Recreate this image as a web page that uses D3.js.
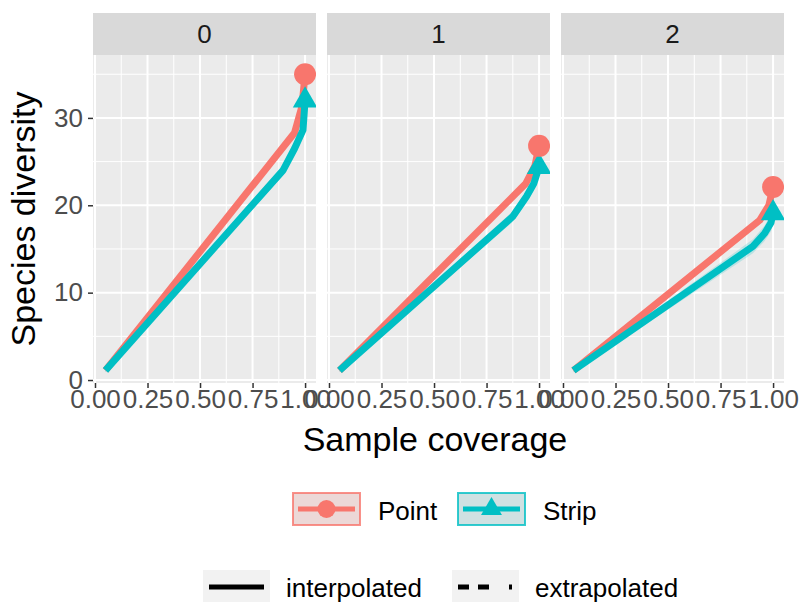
<!DOCTYPE html>
<html>
<head>
<meta charset="utf-8">
<script src="https://cdn.jsdelivr.net/npm/d3@7"></script>
<style>
  body { margin: 0; background: #fff; }
  svg { font-family: "Liberation Sans", Arial, sans-serif; }
</style>
</head>
<body>
<div id="chart"></div>
<script>
// Facets (order q) and assemblages
const orders = ["0", "1", "2"];
const groups = ["Point", "Strip"];
const methods = ["interpolated", "extrapolated"];

// Rows: [sample coverage, diversity, lower CI, upper CI]; last row = observed
const point0 = [[0.05, 1.1, 0.9, 1.3], [0.95, 28.3, 27.8, 28.8], [0.985, 31.3, 30.6, 32.0], [1.0, 35.0, 34.2, 35.8]];
const strip0 = [[0.05, 1.1, 0.9, 1.3], [0.895, 24.0, 23.4, 24.6], [0.95, 26.5, 25.8, 27.2], [0.99, 28.6, 27.8, 29.4], [1.0, 32.0, 31.0, 33.0]];
const point1 = [[0.05, 1.1, 0.9, 1.3], [0.937, 22.5, 22.0, 23.0], [0.98, 24.5, 23.9, 25.1], [1.0, 26.8, 26.1, 27.5]];
const strip1 = [[0.05, 1.1, 0.9, 1.3], [0.874, 18.7, 18.1, 19.3], [0.94, 21.0, 20.3, 21.7], [0.975, 22.5, 21.7, 23.3], [1.0, 24.4, 23.5, 25.3]];
const point2 = [[0.05, 1.1, 0.9, 1.3], [0.937, 18.3, 17.8, 18.8], [0.98, 20.0, 19.4, 20.6], [1.0, 22.1, 21.4, 22.8]];
const strip2 = [[0.05, 1.1, 0.9, 1.3], [0.904, 15.3, 14.5, 16.1], [0.96, 16.8, 15.9, 17.7], [0.99, 18.0, 17.0, 19.0], [1.0, 19.1, 18.0, 20.2]];

// Tick values
const xTicks = [0, 0.25, 0.5, 0.75, 1];
const xMinor = [0.125, 0.375, 0.625, 0.875];
const yTicks = [0, 10, 20, 30];
const yMinor = [5, 15, 25, 35];

const series = [[point0, strip0], [point1, strip1], [point2, strip2]];
const colors = ["#F8766D", "#00BFC4"];
const keyFills = ["#ecd8d7", "#cfe1e2"];

// Layout
const W = 800, H = 603;
const panelTop = 55, panelBottom = 383, panelW = 223, stripTop = 13;
const panelLefts = [93, 327, 561];

const svg = d3.select("#chart")
  .append("svg")
  .attr("width", W)
  .attr("height", H);

// Shared y scale
const y = d3.scaleLinear()
  .domain([-0.34, 37.2])
  .range([panelBottom, panelTop]);

orders.forEach((q, i) => {
  const left = panelLefts[i];
  const x = d3.scaleLinear()
    .domain([-0.0095, 1.052])
    .range([left, left + panelW]);

  const g = svg.append("g");

  // Panel background
  g.append("rect")
    .attr("x", left).attr("y", panelTop)
    .attr("width", panelW).attr("height", panelBottom - panelTop)
    .attr("fill", "#ebebeb");

  // Minor grid
  g.selectAll(".vminor").data(xMinor).enter().append("line")
    .attr("x1", d => x(d)).attr("x2", d => x(d))
    .attr("y1", panelTop).attr("y2", panelBottom)
    .attr("stroke", "#fff").attr("stroke-width", 1);
  g.selectAll(".hminor").data(yMinor).enter().append("line")
    .attr("x1", left).attr("x2", left + panelW)
    .attr("y1", d => y(d)).attr("y2", d => y(d))
    .attr("stroke", "#fff").attr("stroke-width", 1);

  // Major grid
  g.selectAll(".vmajor").data(xTicks).enter().append("line")
    .attr("x1", d => x(d)).attr("x2", d => x(d))
    .attr("y1", panelTop).attr("y2", panelBottom)
    .attr("stroke", "#fff").attr("stroke-width", 2);
  g.selectAll(".hmajor").data(yTicks).enter().append("line")
    .attr("x1", left).attr("x2", left + panelW)
    .attr("y1", d => y(d)).attr("y2", d => y(d))
    .attr("stroke", "#fff").attr("stroke-width", 2);

  // Strip on top
  g.append("rect")
    .attr("x", left).attr("y", stripTop)
    .attr("width", panelW).attr("height", panelTop - stripTop)
    .attr("fill", "#d9d9d9");
  g.append("text")
    .attr("x", left + panelW / 2)
    .attr("y", (stripTop + panelTop) / 2)
    .attr("dy", "0.36em")
    .attr("text-anchor", "middle")
    .style("font-size", "26px")
    .attr("fill", "#1a1a1a")
    .text(q);

  // Clip marks to the panel
  const clipId = "clip" + i;
  svg.append("clipPath").attr("id", clipId)
    .append("rect")
    .attr("x", left).attr("y", panelTop)
    .attr("width", panelW).attr("height", panelBottom - panelTop);
  const marks = g.append("g").attr("clip-path", `url(#${clipId})`);

  const area = d3.area()
    .x(d => x(d[0])).y0(d => y(d[2])).y1(d => y(d[3]));
  const line = d3.line()
    .x(d => x(d[0])).y(d => y(d[1]));

  // Confidence bands
  series[i].forEach((s, k) => {
    marks.append("path")
      .attr("d", area(s))
      .attr("fill", colors[k])
      .attr("fill-opacity", 0.2);
  });

  // Rarefaction curves
  series[i].forEach((s, k) => {
    marks.append("path")
      .attr("d", line(s))
      .attr("fill", "none")
      .attr("stroke", colors[k])
      .attr("stroke-width", 7)
      .attr("stroke-linejoin", "round");
  });

  // Observed points
  const obsStrip = series[i][1][series[i][1].length - 1];
  marks.append("path")
    .attr("d", d3.symbol(d3.symbolTriangle, 260)())
    .attr("transform", `translate(${x(obsStrip[0])},${y(obsStrip[1])})`)
    .attr("fill", colors[1]);
  const obsPoint = series[i][0][series[i][0].length - 1];
  marks.append("circle")
    .attr("cx", x(obsPoint[0])).attr("cy", y(obsPoint[1]))
    .attr("r", 11)
    .attr("fill", colors[0]);

  // X axis
  const xAxis = svg.append("g")
    .attr("transform", `translate(0,${panelBottom})`)
    .call(d3.axisBottom(x).tickValues(xTicks).tickFormat(d3.format(".2f"))
      .tickSize(5).tickPadding(2));
  xAxis.select(".domain").remove();
  xAxis.selectAll("line").attr("stroke", "#333").attr("stroke-width", 1.5);
  xAxis.selectAll("text")
    .attr("fill", "#4d4d4d")
    .style("font-size", "26px")
    .style("font-family", "Liberation Sans, Arial, sans-serif");

  // Y axis only on first panel
  if (i === 0) {
    const yAxis = svg.append("g")
      .attr("transform", `translate(${left},0)`)
      .call(d3.axisLeft(y).tickValues(yTicks).tickSize(5).tickPadding(5));
    yAxis.select(".domain").remove();
    yAxis.selectAll("line").attr("stroke", "#333").attr("stroke-width", 1.5);
    yAxis.selectAll("text")
      .attr("fill", "#4d4d4d")
      .style("font-size", "26px")
      .style("font-family", "Liberation Sans, Arial, sans-serif");
  }
});

// Axis titles
svg.append("text")
  .attr("x", 435)
  .attr("y", 451)
  .attr("text-anchor", "middle")
  .style("font-size", "34px")
  .text("Sample coverage");

svg.append("text")
  .attr("transform", "rotate(-90)")
  .attr("x", -(panelTop + panelBottom) / 2)
  .attr("y", 35)
  .attr("text-anchor", "middle")
  .style("font-size", "34px")
  .text("Species diversity");

// Legend: assemblages
const keyW = 67, keyH = 32;
const groupKeyX = [293, 458];
const groupKeyY = 493;
groups.forEach((name, k) => {
  const kx = groupKeyX[k];
  svg.append("rect")
    .attr("x", kx).attr("y", groupKeyY)
    .attr("width", keyW).attr("height", keyH)
    .attr("fill", keyFills[k])
    .attr("stroke", colors[k]).attr("stroke-opacity", 0.8).attr("stroke-width", 2);
  svg.append("line")
    .attr("x1", kx + 5).attr("x2", kx + keyW - 5)
    .attr("y1", groupKeyY + keyH / 2).attr("y2", groupKeyY + keyH / 2)
    .attr("stroke", colors[k]).attr("stroke-width", 5);
  if (k === 0) {
    svg.append("circle")
      .attr("cx", kx + keyW / 2).attr("cy", groupKeyY + keyH / 2)
      .attr("r", 9).attr("fill", colors[k]);
  } else {
    svg.append("path")
      .attr("d", d3.symbol(d3.symbolTriangle, 190)())
      .attr("transform", `translate(${kx + keyW / 2},${groupKeyY + keyH / 2})`)
      .attr("fill", colors[k]);
  }
  svg.append("text")
    .attr("x", kx + keyW + 18)
    .attr("y", 520)
    .style("font-size", "26px")
    .text(name);
});

// Legend: method
const methodKeyX = [203, 452];
const methodKeyY = 570;
methods.forEach((name, k) => {
  const kx = methodKeyX[k];
  svg.append("rect")
    .attr("x", kx).attr("y", methodKeyY)
    .attr("width", keyW).attr("height", keyH)
    .attr("fill", "#f2f2f2");
  svg.append("line")
    .attr("x1", kx + 6).attr("x2", kx + keyW - 6)
    .attr("y1", methodKeyY + 17).attr("y2", methodKeyY + 17)
    .attr("stroke", "#000").attr("stroke-width", 5)
    .attr("stroke-dasharray", k === 0 ? null : "11,9,11,20,3,40");
  svg.append("text")
    .attr("x", kx + keyW + 16)
    .attr("y", 597)
    .style("font-size", "26px")
    .text(name);
});
</script>
</body>
</html>
